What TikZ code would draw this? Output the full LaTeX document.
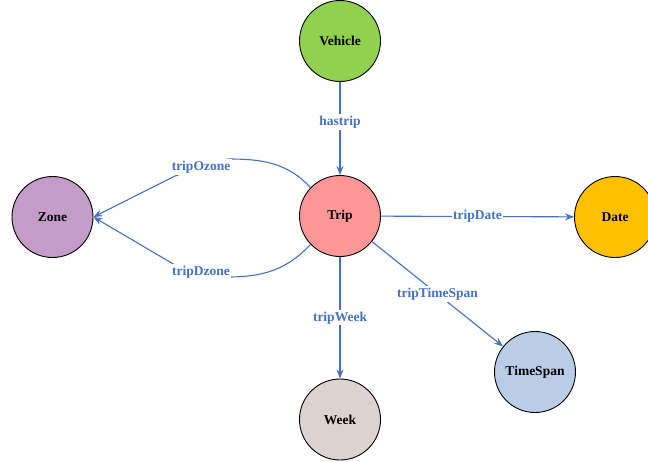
\documentclass[tikz,border=0pt]{standalone}
\usepackage{fontspec}
\setmainfont{Liberation Serif}
\usetikzlibrary{arrows.meta}
\definecolor{edgeblue}{HTML}{4472C4}
\definecolor{cveh}{HTML}{92D050}
\definecolor{ctrip}{HTML}{FF9797}
\definecolor{czone}{HTML}{C49BC9}
\definecolor{cdate}{HTML}{FFC000}
\definecolor{cspan}{HTML}{B9CDE7}
\definecolor{cweek}{HTML}{DCD3D0}
\tikzset{
  ent/.style={circle, draw=black, line width=0.9pt, minimum size=81pt, inner sep=0pt,
    font=\fontsize{13.5}{15}\selectfont\bfseries},
  rel/.style={draw=edgeblue, line width=1.1pt, -{Stealth[length=9pt,width=7pt]}},
  lbl/.style={fill=white, inner sep=1.5pt, text=edgeblue, font=\fontsize{13.5}{15}\selectfont\bfseries}
}
\begin{document}
\begin{tikzpicture}[x=1pt,y=1pt]
\useasboundingbox (0,0) rectangle (648,-461);
\node[ent, fill=cveh] (vehicle) at (340,-41) {Vehicle};
\node[ent, fill=ctrip] (trip) at (340,-216) {Trip};
\node[ent, fill=czone] (zone) at (52.5,-217) {Zone};
\node[ent, fill=cdate] (date) at (615,-217) {Date};
\node[ent, fill=cspan] (span) at (535,-372) {TimeSpan};
\node[ent, fill=cweek] (week) at (340,-419.5) {Week};
\coordinate (oz1) at (228,-159);
\coordinate (oz2) at (175,-176);
\coordinate (dz1) at (228,-277);
\coordinate (dz2) at (175,-265);
\draw[rel] (vehicle) -- node[lbl, pos=0.43] {hastrip} (trip);
\draw[rel] (trip) -- node[lbl, pos=0.5] {tripDate} (date);
\draw[rel] (trip) -- node[lbl, pos=0.5] {tripTimeSpan} (span);
\draw[rel] (trip) -- node[lbl, pos=0.5] {tripWeek} (week);
\draw[rel] (trip.136) to[out=133,in=0] (oz1) -- (oz2) -- (zone.east);
\draw[rel] (trip.224) to[out=227,in=0] (dz1) -- (dz2) -- (zone.east);
\node[lbl] (lo) at (201,-167) {tripOzone};
\node[lbl] (ld) at (201,-272) {tripDzone};
\end{tikzpicture}
\end{document}
